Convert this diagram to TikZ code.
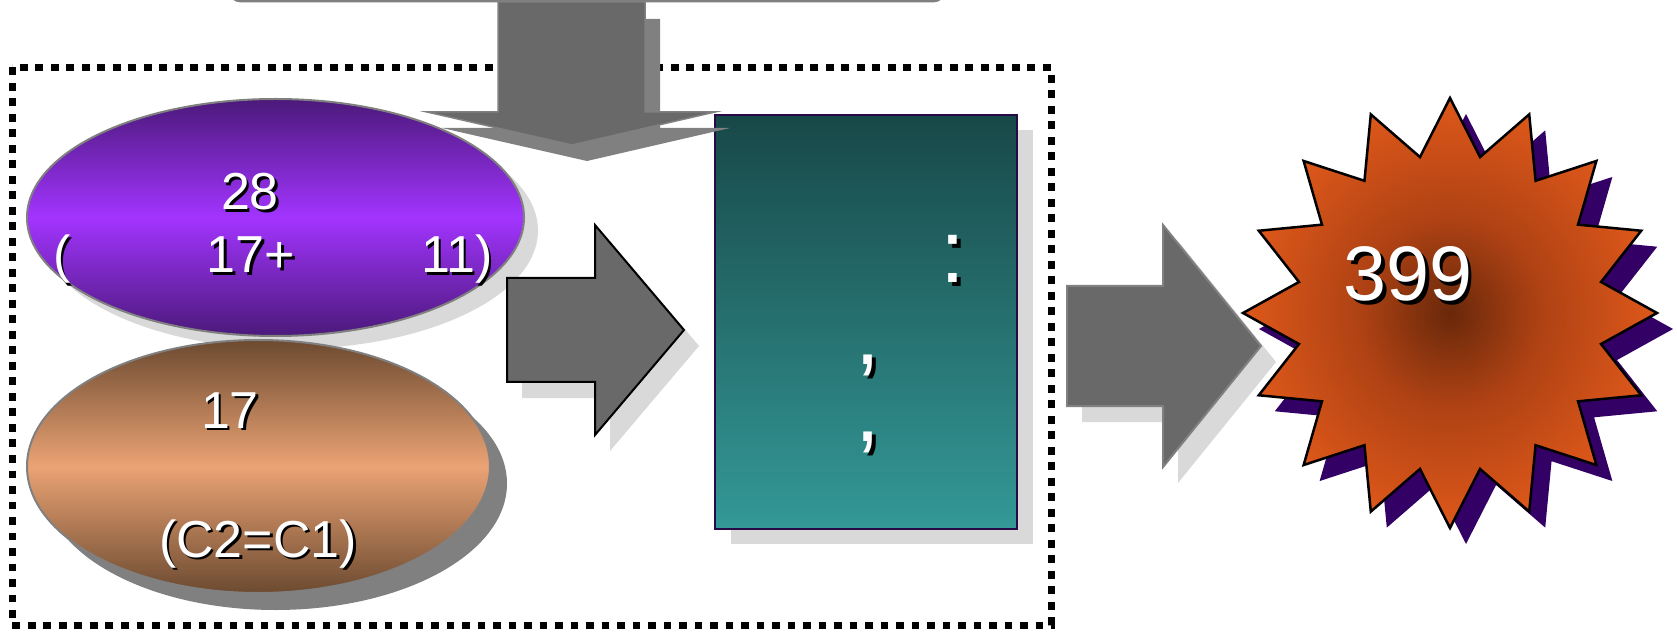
\documentclass[tikz,border=0pt]{standalone}
\usepackage{fontspec}
\setmainfont{Liberation Sans}
\usetikzlibrary{shapes.geometric}
\newdimen\px \px=0.75pt
\definecolor{arrfill}{HTML}{696969}
\definecolor{shlight}{HTML}{D9D9D9}
\definecolor{shmid}{HTML}{808080}
\definecolor{purdark}{RGB}{75,25,122}
\definecolor{purmid}{RGB}{162,52,255}
\definecolor{brdark}{RGB}{108,74,48}
\definecolor{brmid}{RGB}{235,163,116}
\definecolor{tealtop}{RGB}{24,72,72}
\definecolor{tealbot}{RGB}{51,153,151}
\definecolor{tealborder}{RGB}{40,10,70}
\definecolor{starout}{RGB}{222,88,26}
\definecolor{starmid}{RGB}{175,66,20}
\definecolor{starin}{RGB}{105,40,10}
\definecolor{starsh}{RGB}{51,0,102}
\pgfdeclareradialshading{burstshade}{\pgfpoint{0bp}{0bp}}{%
  color(0bp)=(starin); color(11bp)=(starmid); color(25bp)=(starout); color(50bp)=(starout)}
\tikzset{
  x=0.75pt, y=-0.75pt,
  lightsh/.style={fill=shlight, draw=none},
  midsh/.style={fill=shmid, draw=none},
  blockarrow/.style={fill=arrfill, line join=miter},
  txtw/.style={text=white, inner sep=0pt, anchor=base},
  txtsh/.style={text=black, inner sep=0pt, anchor=base},
  ell/.style={ellipse, draw=shmid, line width=2\px, inner sep=0pt},
}
\newcommand\shtxt[5]{%
  \node[txtsh,font=\fontsize{#3}{#3}\selectfont] at ([shift={(#4,#4)}]#2) {#5};
  \node[txtw,font=\fontsize{#3}{#3}\selectfont] (#1) at (#2) {#5};}
\newcommand\starpts{plot[samples at={0,...,31}]
  ({ifthenelse(mod(\x,2)==0,207,154)*cos(90+\x*11.25)},
   {-ifthenelse(mod(\x,2)==0,215,159)*sin(90+\x*11.25)}) -- cycle}
\begin{document}
\begin{tikzpicture}
\useasboundingbox (0,0) rectangle (1677,634);
\clip (0,0) rectangle (1677,634);
\fill[white] (0,0) rectangle (1677,634);

% top box (only its lower edge is visible)
\draw[draw=shmid, fill=white, line width=3\px, rounded corners=12\px]
  (229,-80) rectangle (945,1);

% dotted frame
\draw[line width=7\px, dash pattern=on 7.9\px off 7.6\px]
  (12,67.5) rectangle (1051,625);

% purple ellipse
\node[lightsh, ellipse, minimum width=497\px, minimum height=237\px, inner sep=0pt]
  at (289.5,230.5) {};
\node[ell, minimum width=497\px, minimum height=237\px,
  top color=purdark, bottom color=purdark, middle color=purmid] (sum) at (275.5,217.5) {};

% brown ellipse
\node[midsh, ellipse, minimum width=463\px, minimum height=253\px, inner sep=0pt]
  at (275.5,483.5) {};
\node[ell, minimum width=463\px, minimum height=253\px,
  top color=brdark, bottom color=brdark, middle color=brmid] (base) at (258.5,466.5) {};

% teal box
\node[lightsh, rectangle, minimum width=302\px, minimum height=414\px, inner sep=0pt]
  at (882,337) {};
\node[rectangle, draw=tealborder, line width=2\px, inner sep=0pt,
  minimum width=302\px, minimum height=414\px,
  top color=tealtop, bottom color=tealbot] (calc) at (866,322) {};

% star burst
\begin{scope}[shift={(1466,329)}]
  \fill[starsh] \starpts;
\end{scope}
\begin{scope}[shift={(1450,313)}]
  \path[draw=black, line width=2.5\px, line join=miter,
    shading=burstshade] \starpts;
\end{scope}
\node[inner sep=0pt] (burst) at (1450,313) {};

% block arrow 1
\fill[shlight] (522,294) -- (610,294) -- (610,241) -- (699,346) -- (610,451)
  -- (610,398) -- (522,398) -- cycle;
\draw[blockarrow, draw=black, line width=2\px] (507,278) -- (595,278) -- (595,225)
  -- (684,330) -- (595,435) -- (595,382) -- (507,382) -- cycle;

% block arrow 2
\fill[shlight] (1082,302) -- (1178,302) -- (1178,241) -- (1276,362) -- (1178,483)
  -- (1178,422) -- (1082,422) -- cycle;
\draw[blockarrow, draw=shmid, line width=2\px] (1067,286) -- (1163,286) -- (1163,225)
  -- (1261,346) -- (1163,467) -- (1163,406) -- (1067,406) -- cycle;

% down arrow
\fill[shmid] (513,19) -- (660,19) -- (660,128) -- (730,128) -- (587,161)
  -- (442,128) -- (513,128) -- cycle;
\draw[blockarrow, draw=shmid, line width=1.5\px] (498,2) -- (645,2) -- (645,112)
  -- (715,112) -- (572,145) -- (427,112) -- (498,112) -- cycle;

% texts
\shtxt{t28}{250,210}{39}{2.5}{28}
\shtxt{tlp}{62,273}{39}{2.5}{(}
\shtxt{t17p}{251,273}{39}{2.5}{17+}
\shtxt{t11}{457,273}{39}{2.5}{11)}
\shtxt{t17}{230,428}{39}{2.5}{17}
\shtxt{tc}{258,557}{39}{2.5}{(C2=C1)}
\shtxt{tcolon}{953,283}{67}{3.5}{:}
\shtxt{tcomma1}{868,364}{67}{3.5}{,}
\shtxt{tcomma2}{868,441}{67}{3.5}{,}
\shtxt{t399}{1408,301}{58}{3.5}{399}
\end{tikzpicture}
\end{document}
